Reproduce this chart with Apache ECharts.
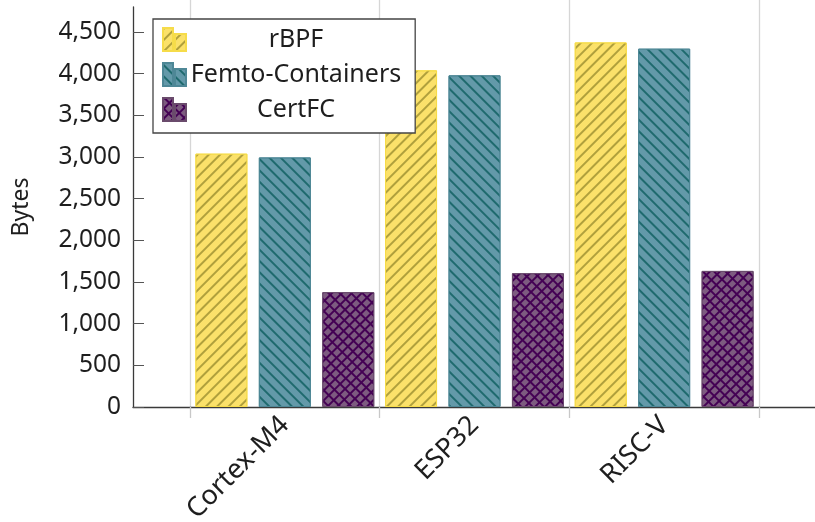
<!DOCTYPE html>
<html>
<head>
<meta charset="utf-8">
<script src="https://cdn.jsdelivr.net/npm/echarts@6/dist/echarts.min.js"></script>
<style>
html,body{margin:0;padding:0;background:#fff;}
#chart{width:815px;height:522px;}
</style>
</head>
<body>
<div id="chart"></div>
<script>
const categories = ['Cortex-M4', 'ESP32', 'RISC-V'];
const seriesNames = ['rBPF', 'Femto-Containers', 'CertFC'];
const rbpf = [3040, 4040, 4375];
const femto = [2995, 3980, 4300];
const certfc = [1378, 1605, 1633];
const yTicks = [0, 500, 1000, 1500, 2000, 2500, 3000, 3500, 4000, 4500];

const FONT = 'Noto Sans';
const chart = echarts.init(document.getElementById('chart'), null, {renderer: 'canvas'});

function lines(color, rot) {
  return {symbol: 'rect', symbolSize: 1, color: color, dashArrayX: [1, 0], dashArrayY: [1.5, 5.5], rotation: rot};
}
const crossDecal = {
  symbol: 'rect', symbolSize: 1, color: '#440154',
  dashArrayX: [[1.5, 0], [1.5, 4.5], [1.5, 4.5], [1.5, 4.5]],
  dashArrayY: [1.5, 0],
  rotation: Math.PI / 4
};

const legendIcon = 'path://M0,0H10V23H0Z M12,6H23V23H12Z';

const option = {
  animation: false,
  textStyle: {fontFamily: FONT},
  grid: [
    {left: 133, right: 0, top: 7, bottom: 115, containLabel: false, outerBoundsMode: 'none'},
    {left: 190, right: 56, top: 0, bottom: 115, containLabel: false, outerBoundsMode: 'none'}
  ],
  xAxis: [
    {
      gridIndex: 0, type: 'value', min: -0.8, max: 2.8,
      axisLine: {show: true, onZero: false, lineStyle: {color: '#3a3a3a', width: 1.3}},
      axisTick: {show: false}, axisLabel: {show: false}, splitLine: {show: false}
    },
    {
      gridIndex: 1, type: 'category', data: categories, boundaryGap: true,
      axisLine: {show: false},
      axisTick: {show: true, length: 11, lineStyle: {color: '#c8c8c8', width: 1.3}},
      splitLine: {show: true, lineStyle: {color: '#d6d6d6', width: 1.3}},
      axisLabel: {show: true, rotate: 45, margin: 14, fontSize: 27, color: '#1e1e1e', fontFamily: FONT}
    }
  ],
  yAxis: [
    {
      gridIndex: 0, type: 'value', min: 0, max: 4800, interval: 500,
      name: 'Bytes', nameLocation: 'middle', nameGap: 100,
      nameTextStyle: {fontSize: 23, color: '#1e1e1e', fontFamily: FONT},
      axisLine: {show: true, onZero: false, lineStyle: {color: '#3a3a3a', width: 1.3}},
      axisTick: {show: true, inside: true, length: 11, lineStyle: {color: '#555', width: 1}},
      splitLine: {show: false},
      axisLabel: {
        margin: 12, fontSize: 24.5, color: '#1e1e1e', fontFamily: FONT,
        showMaxLabel: false,
        formatter: function (v) { return yTicks.indexOf(v) >= 0 ? v.toLocaleString('en-US') : ''; }
      }
    },
    {
      gridIndex: 1, type: 'value', min: 0, max: 4800 * 407 / 400,
      show: false, splitLine: {show: false}
    }
  ],
  legend: {
    show: true,
    orient: 'vertical',
    left: 153, top: 19,
    padding: [8, 14, 11, 9],
    itemGap: 10,
    itemWidth: 23, itemHeight: 23,
    icon: legendIcon,
    backgroundColor: '#fff',
    borderColor: '#444', borderWidth: 1.3,
    data: seriesNames,
    formatter: function (name) { return '{n|' + name + '}'; },
    textStyle: {
      fontFamily: FONT, fontSize: 25, color: '#1e1e1e',
      rich: {n: {width: 210, align: 'center', fontSize: 25, fontFamily: FONT, color: '#1e1e1e', lineHeight: 24.5}}
    }
  },
  series: [
    {
      name: seriesNames[0], type: 'bar', xAxisIndex: 1, yAxisIndex: 1,
      data: rbpf, barWidth: 52, barGap: '22%',
      itemStyle: {color: '#fbe16a', borderColor: '#f6dc4a', borderWidth: 1, decal: lines('#b0a03c', -Math.PI / 4)}
    },
    {
      name: seriesNames[1], type: 'bar', xAxisIndex: 1, yAxisIndex: 1,
      data: femto, barWidth: 52, barGap: '22%',
      itemStyle: {color: '#6399a9', borderColor: '#4e8796', borderWidth: 1, decal: lines('#1f6a6e', Math.PI / 4)}
    },
    {
      name: seriesNames[2], type: 'bar', xAxisIndex: 1, yAxisIndex: 1,
      data: certfc, barWidth: 52, barGap: '22%',
      itemStyle: {color: '#7d5b80', borderColor: '#6a4b6c', borderWidth: 1, decal: crossDecal}
    }
  ]
};
chart.setOption(option);
</script>
</body>
</html>
